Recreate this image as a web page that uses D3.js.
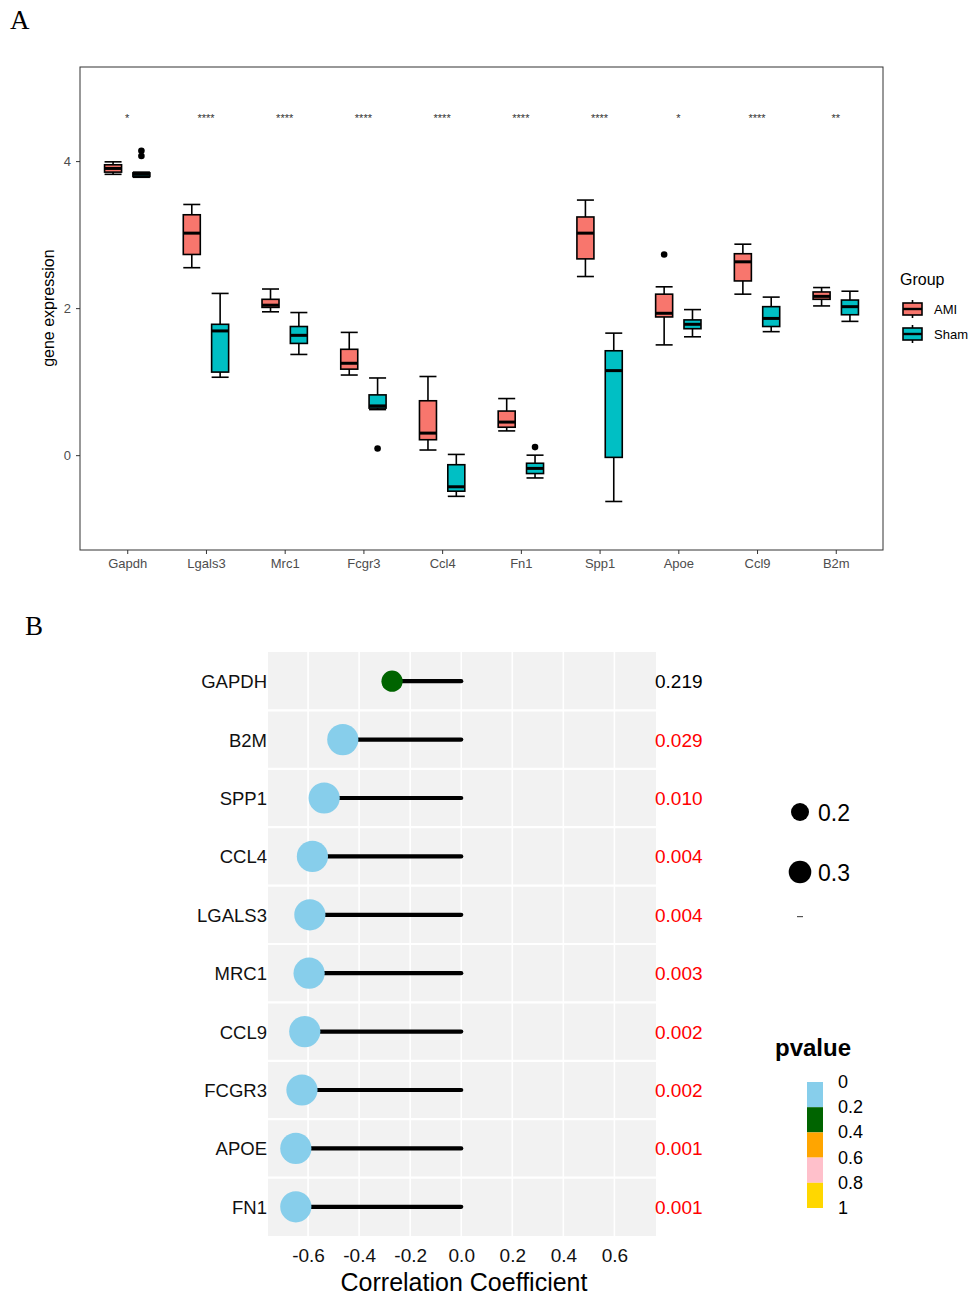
<!DOCTYPE html>
<html>
<head>
<meta charset="utf-8">
<script src="https://cdn.jsdelivr.net/npm/d3@7"></script>
<style>
  body { margin: 0; background: #fff; }
  text { font-family: "Liberation Sans", Arial, sans-serif; }
</style>
</head>
<body>
<div id="chart"></div>
<script>
// ---------- Panel A data ----------
const genesA = ["Gapdh", "Lgals3", "Mrc1", "Fcgr3", "Ccl4", "Fn1", "Spp1", "Apoe", "Ccl9", "B2m"];
const groups = ["AMI", "Sham"];
const groupColors = ["#F8766D", "#00BFC4"];
// [lower whisker, Q1, median, Q3, upper whisker]
const amiStats = [
  [3.82, 3.85, 3.90, 3.95, 3.99],
  [2.55, 2.73, 3.02, 3.27, 3.41],
  [1.95, 2.01, 2.04, 2.12, 2.26],
  [1.09, 1.17, 1.25, 1.44, 1.67],
  [0.07, 0.21, 0.30, 0.74, 1.07],
  [0.33, 0.38, 0.45, 0.60, 0.77],
  [2.43, 2.67, 3.02, 3.24, 3.47],
  [1.50, 1.88, 1.93, 2.19, 2.29],
  [2.19, 2.37, 2.63, 2.74, 2.87],
  [2.03, 2.12, 2.16, 2.22, 2.28]
];
const shamStats = [
  [3.78, 3.79, 3.82, 3.84, 3.85],
  [1.06, 1.13, 1.69, 1.78, 2.20],
  [1.37, 1.52, 1.63, 1.75, 1.94],
  [0.62, 0.64, 0.67, 0.82, 1.05],
  [-0.56, -0.49, -0.43, -0.13, 0.01],
  [-0.31, -0.25, -0.18, -0.11, 0.00],
  [-0.63, -0.03, 1.15, 1.42, 1.66],
  [1.61, 1.72, 1.78, 1.84, 1.98],
  [1.68, 1.75, 1.86, 2.02, 2.15],
  [1.82, 1.91, 2.02, 2.11, 2.23]
];
const amiOutliers = [[], [], [], [], [], [], [], [2.73], [], []];
const shamOutliers = [[4.07, 4.14], [], [], [0.09], [], [0.11], [], [], [], []];
const signifLabels = ["*", "****", "****", "****", "****", "****", "****", "*", "****", "**"];
const yTicksA = [0, 2, 4];

// ---------- Panel B data ----------
const genesB = ["GAPDH", "B2M", "SPP1", "CCL4", "LGALS3", "MRC1", "CCL9", "FCGR3", "APOE", "FN1"];
const corrValues = [-0.271, -0.464, -0.537, -0.583, -0.593, -0.596, -0.613, -0.624, -0.648, -0.648];
const pValues = [0.219, 0.029, 0.010, 0.004, 0.004, 0.003, 0.002, 0.002, 0.001, 0.001];
const xTicksB = [-0.6, -0.4, -0.2, 0.0, 0.2, 0.4, 0.6];
const sizeBreaks = [0.2, 0.3];
const pBreaks = [0, 0.2, 0.4, 0.6, 0.8, 1];
const pColors = ["skyblue", "darkgreen", "orange", "pink", "gold"];

const width = 970, height = 1296;
const svg = d3.select("#chart").append("svg")
  .attr("width", width).attr("height", height);

// panel letters
svg.append("text").attr("x", 10).attr("y", 29)
  .style("font-family", "'Liberation Serif', 'DejaVu Serif', serif")
  .style("font-size", "27px").text("A");
svg.append("text").attr("x", 25).attr("y", 635)
  .style("font-family", "'Liberation Serif', 'DejaVu Serif', serif")
  .style("font-size", "27px").text("B");

// ================= Panel A: boxplots =================
const pA = { left: 80, right: 883, top: 67, bottom: 550 };
const xA = d3.scalePoint().domain(genesA).range([pA.left, pA.right]).padding(0.6);
const yA = d3.scaleLinear().domain([-1.29, 5.28]).range([pA.bottom, pA.top]);
const dodge = d3.scaleBand().domain(groups).range([-xA.step() * 0.36, xA.step() * 0.36]);
const boxW = dodge.bandwidth() * 0.6;

const gA = svg.append("g");

// x axis
const xAxisA = gA.append("g")
  .attr("transform", `translate(0,${pA.bottom})`)
  .call(d3.axisBottom(xA).tickSize(4).tickPadding(5));
xAxisA.select(".domain").remove();
xAxisA.selectAll(".tick line").attr("stroke", "#333");
xAxisA.selectAll(".tick text").attr("fill", "#4d4d4d")
  .style("font-size", "13px").style("font-family", "'Liberation Sans', Arial, sans-serif");

// y axis
const yAxisA = gA.append("g")
  .attr("transform", `translate(${pA.left},0)`)
  .call(d3.axisLeft(yA).tickValues(yTicksA).tickFormat(d3.format("d")).tickSize(4).tickPadding(5));
yAxisA.select(".domain").remove();
yAxisA.selectAll(".tick line").attr("stroke", "#333");
yAxisA.selectAll(".tick text").attr("fill", "#4d4d4d")
  .style("font-size", "13px").style("font-family", "'Liberation Sans', Arial, sans-serif");

// frame
gA.append("rect")
  .attr("x", pA.left).attr("y", pA.top)
  .attr("width", pA.right - pA.left).attr("height", pA.bottom - pA.top)
  .attr("fill", "none").attr("stroke", "#333").attr("stroke-width", 1);

// y title
gA.append("text")
  .attr("transform", `translate(54,${(yA(4) + yA(0)) / 2}) rotate(-90)`)
  .attr("text-anchor", "middle")
  .style("font-size", "16px")
  .text("gene expression");

// boxes
const boxData = [];
genesA.forEach((g, i) => {
  boxData.push({ gene: g, group: "AMI", s: amiStats[i], out: amiOutliers[i] });
  boxData.push({ gene: g, group: "Sham", s: shamStats[i], out: shamOutliers[i] });
});
const colorA = d3.scaleOrdinal().domain(groups).range(groupColors);

const boxes = gA.selectAll(".box").data(boxData).enter().append("g")
  .attr("transform", d => `translate(${xA(d.gene) + dodge(d.group) + dodge.bandwidth() / 2},0)`);

// whiskers
boxes.append("line")
  .attr("x1", 0).attr("x2", 0)
  .attr("y1", d => yA(d.s[4])).attr("y2", d => yA(d.s[0]))
  .attr("stroke", "black").attr("stroke-width", 1.6);
boxes.append("line")
  .attr("x1", -boxW / 2).attr("x2", boxW / 2)
  .attr("y1", d => yA(d.s[4])).attr("y2", d => yA(d.s[4]))
  .attr("stroke", "black").attr("stroke-width", 1.6);
boxes.append("line")
  .attr("x1", -boxW / 2).attr("x2", boxW / 2)
  .attr("y1", d => yA(d.s[0])).attr("y2", d => yA(d.s[0]))
  .attr("stroke", "black").attr("stroke-width", 1.6);
boxes.append("rect")
  .attr("x", -boxW / 2).attr("width", boxW)
  .attr("y", d => yA(d.s[3]))
  .attr("height", d => Math.max(0.5, yA(d.s[1]) - yA(d.s[3])))
  .attr("fill", d => colorA(d.group))
  .attr("stroke", "black").attr("stroke-width", 1.6);
boxes.append("line")
  .attr("x1", -boxW / 2).attr("x2", boxW / 2)
  .attr("y1", d => yA(d.s[2])).attr("y2", d => yA(d.s[2]))
  .attr("stroke", "black").attr("stroke-width", 3);
boxes.selectAll(".out").data(d => d.out).enter().append("circle")
  .attr("cx", 0).attr("cy", d => yA(d)).attr("r", 3.3).attr("fill", "black");

// significance labels
gA.selectAll(".sig").data(genesA).enter().append("text")
  .attr("x", d => xA(d)).attr("y", yA(4.6) + 5)
  .attr("text-anchor", "middle")
  .attr("fill", "#333")
  .style("font-size", "11px")
  .text((d, i) => signifLabels[i]);

// legend A
const legA = gA.append("g").attr("transform", "translate(900,0)");
legA.append("text").attr("x", 0).attr("y", 285).style("font-size", "16px").text("Group");
groups.forEach((grp, i) => {
  const cy = 309 + i * 25;
  const k = legA.append("g").attr("transform", `translate(12.5,${cy})`);
  k.append("line").attr("x1", 0).attr("x2", 0).attr("y1", -9).attr("y2", 9)
    .attr("stroke", "black").attr("stroke-width", 1.6);
  k.append("rect").attr("x", -9.5).attr("y", -6).attr("width", 19).attr("height", 12)
    .attr("fill", colorA(grp)).attr("stroke", "black").attr("stroke-width", 1.6);
  k.append("line").attr("x1", -9.5).attr("x2", 9.5).attr("y1", 0).attr("y2", 0)
    .attr("stroke", "black").attr("stroke-width", 2.4);
  legA.append("text").attr("x", 34).attr("y", cy + 5).style("font-size", "13px").text(grp);
});

// ================= Panel B: lollipop =================
const pB = { left: 268, right: 656, top: 652, bottom: 1236 };
const xB = d3.scaleLinear().domain([-0.757, 0.763]).range([pB.left, pB.right]);
const yB = d3.scaleBand().domain(genesB).range([pB.top, pB.bottom]);
const colorB = d3.scaleThreshold().domain(pBreaks.slice(1, -1)).range(pColors);
const sizeB = d3.scaleLinear().domain([0.2, 0.3, 0.45]).range([9, 11.3, 15.6]).clamp(true);

const gB = svg.append("g");
gB.append("rect")
  .attr("x", pB.left).attr("y", pB.top)
  .attr("width", pB.right - pB.left).attr("height", pB.bottom - pB.top)
  .attr("fill", "#f2f2f2");

// vertical grid
gB.selectAll(".vgrid").data(xTicksB).enter().append("line")
  .attr("x1", d => xB(d)).attr("x2", d => xB(d))
  .attr("y1", pB.top).attr("y2", pB.bottom)
  .attr("stroke", "white").attr("stroke-width", 1.6);
// row separators
gB.selectAll(".hsep").data(genesB.slice(1)).enter().append("line")
  .attr("x1", pB.left).attr("x2", pB.right)
  .attr("y1", d => yB(d)).attr("y2", d => yB(d))
  .attr("stroke", "white").attr("stroke-width", 2.2);

const rows = genesB.map((g, i) => ({ gene: g, r: corrValues[i], p: pValues[i] }));

gB.selectAll(".seg").data(rows).enter().append("line")
  .attr("x1", d => xB(d.r)).attr("x2", xB(0))
  .attr("y1", d => yB(d.gene) + yB.bandwidth() / 2)
  .attr("y2", d => yB(d.gene) + yB.bandwidth() / 2)
  .attr("stroke", "black").attr("stroke-width", 4.2).attr("stroke-linecap", "round");

gB.selectAll(".dot").data(rows).enter().append("circle")
  .attr("cx", d => xB(d.r))
  .attr("cy", d => yB(d.gene) + yB.bandwidth() / 2)
  .attr("r", d => sizeB(Math.abs(d.r)))
  .attr("fill", d => colorB(d.p));

// row labels
gB.selectAll(".rlab").data(rows).enter().append("text")
  .attr("x", pB.left - 1)
  .attr("y", d => yB(d.gene) + yB.bandwidth() / 2 + 7)
  .attr("text-anchor", "end")
  .attr("fill", "#111")
  .style("font-size", "18.5px")
  .text(d => d.gene);

// p-value labels
gB.selectAll(".plab").data(rows).enter().append("text")
  .attr("x", pB.right - 1)
  .attr("y", d => yB(d.gene) + yB.bandwidth() / 2 + 7)
  .attr("fill", d => d.p < 0.05 ? "red" : "black")
  .style("font-size", "19px")
  .text(d => d3.format(".3f")(d.p));

// x axis
const xAxisB = gB.append("g")
  .attr("transform", `translate(0,${pB.bottom})`)
  .call(d3.axisBottom(xB).tickValues(xTicksB).tickSize(0).tickPadding(13));
xAxisB.select(".domain").remove();
xAxisB.selectAll(".tick text").attr("fill", "#111")
  .style("font-size", "19px").style("font-family", "'Liberation Sans', Arial, sans-serif")
  .text(d => d3.format(".1f")(d).replace("−", "-"));

gB.append("text")
  .attr("x", (pB.left + pB.right) / 2 + 2).attr("y", 1291)
  .attr("text-anchor", "middle")
  .style("font-size", "25px")
  .text("Correlation Coefficient");

// size legend
const legS = gB.append("g");
sizeBreaks.forEach((v, i) => {
  const cy = 812 + i * 60;
  legS.append("circle").attr("cx", 800).attr("cy", cy).attr("r", sizeB(v)).attr("fill", "black");
  legS.append("text").attr("x", 818).attr("y", cy + 9).style("font-size", "23px").text(v.toFixed(1));
});
legS.append("rect").attr("x", 797).attr("y", 916).attr("width", 6).attr("height", 1.2).attr("fill", "#555");

// p-value colour legend
const legP = gB.append("g");
const yP = d3.scaleLinear().domain([0, 1]).range([1082, 1208]);
legP.append("text").attr("x", 775).attr("y", 1056)
  .style("font-size", "24px").style("font-weight", "bold").text("pvalue");
legP.selectAll(".bin").data(pColors).enter().append("rect")
  .attr("x", 807).attr("width", 16)
  .attr("y", (d, i) => yP(pBreaks[i]))
  .attr("height", (d, i) => yP(pBreaks[i + 1]) - yP(pBreaks[i]))
  .attr("fill", d => d);
legP.selectAll(".plbl").data(pBreaks).enter().append("text")
  .attr("x", 838).attr("y", d => yP(d) + 6)
  .style("font-size", "18px")
  .text(d => d === 0 || d === 1 ? String(d) : d.toFixed(1));
</script>
</body>
</html>
